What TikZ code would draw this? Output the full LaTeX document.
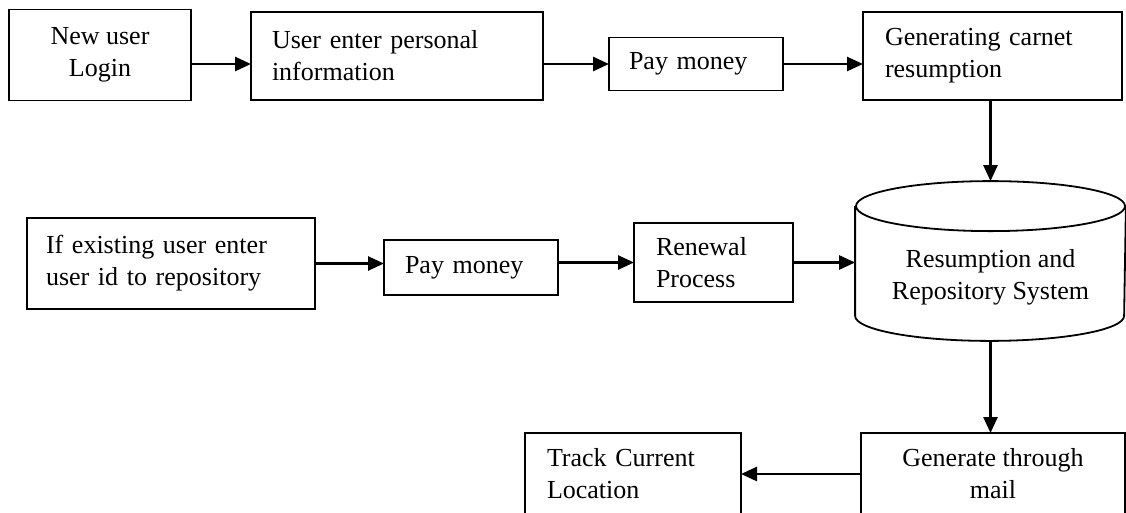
\documentclass[tikz,border=0pt]{standalone}
\usepackage{fontspec}
\setmainfont{Liberation Serif}
\usepackage{tikz}
\usetikzlibrary{arrows.meta,positioning}

\begin{document}
\begin{tikzpicture}[x=1pt,y=-1pt,line width=1.8pt,
    font=\fontsize{26}{32}\selectfont,
    >={Triangle[length=16pt,width=14pt]},
    flow/.style={->,line width=2.6pt},
    box/.style={draw,rectangle,inner sep=0pt,outer sep=0pt,align=center},
    leftbox/.style={draw,rectangle,inner ysep=0pt,inner xsep=#1,outer sep=0pt,align=left}]
    \useasboundingbox (0,0) rectangle (1126,512);
    \node[box,minimum width=182,minimum height=91] (newuser) at (100,55) {New user\\Login};
    \node[leftbox=21pt,text width=250,minimum height=88] (personal) at (397,56) {User enter personal\\information};
    \node[leftbox=20pt,text width=134,minimum height=53] (pay1) at (696,64) {Pay money};
    \node[leftbox=22pt,text width=215,minimum height=88] (carnet) at (992.5,56) {Generating carnet\\resumption};
    \node[leftbox=19pt,text width=250,minimum height=91] (exist) at (171,263.5) {If existing user enter\\user id to repository};
    \node[leftbox=21pt,text width=132,minimum height=55] (pay2) at (471,267.5) {Pay money};
    \node[leftbox=22pt,text width=115,minimum height=79] (renewal) at (713.5,262.5) {Renewal\\Process};
    \node[inner sep=0pt,minimum width=269,minimum height=158,
      label={[align=center,yshift=-16pt]center:Resumption and\\Repository System}] (repo) at (990.5,261) {};
    \draw ([yshift=-25pt]repo.north) ellipse [x radius=134.5pt,y radius=25pt];
    \draw ([yshift=-25pt]repo.north west) -- ([yshift=25pt]repo.south west)
      arc [start angle=180,end angle=360,x radius=134.5pt,y radius=25pt]
      -- ([yshift=-25pt]repo.north east);
    \node[box,minimum width=264,minimum height=82] (mail) at (993,474) {Generate through\\mail};
    \node[leftbox=22pt,text width=172,minimum height=82] (track) at (633,474) {Track Current\\Location};
    \draw[flow] (newuser.east |- pay1) -- (personal.west |- pay1);
    \draw[flow] (personal.east |- pay1) -- (pay1.west);
    \draw[flow] (pay1.east) -- (carnet.west |- pay1);
    \draw[flow] (repo.north |- carnet.south) -- (repo.north);
    \draw[flow] (exist.east) -- (pay2.west |- exist.east);
    \draw[flow] (pay2.east |- renewal) -- (renewal.west);
    \draw[flow] (renewal.east) -- (repo.west |- renewal.east);
    \draw[flow] (repo.south) -- (repo.south |- mail.north);
    \draw[flow] (mail.west |- track) -- (track.east);
\end{tikzpicture}
\end{document}
